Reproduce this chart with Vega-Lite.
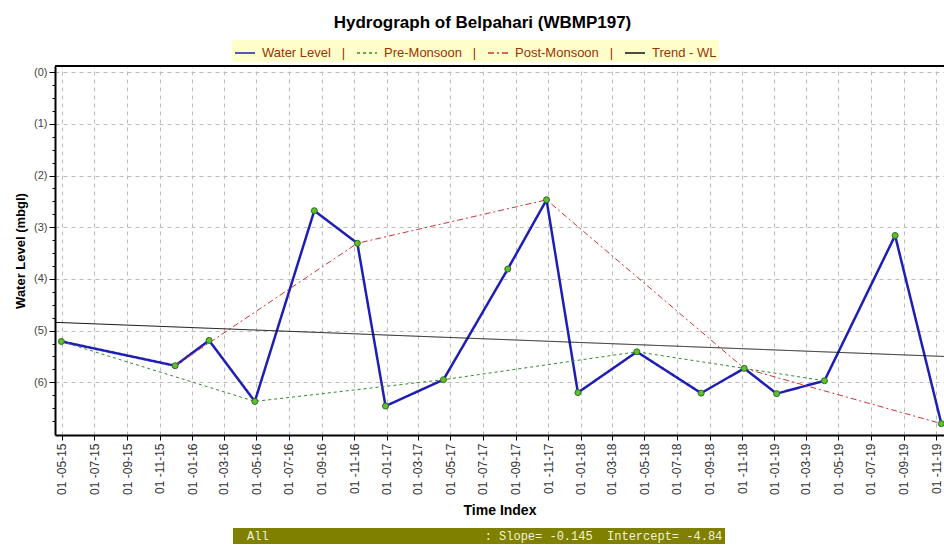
{
  "$schema": "https://vega.github.io/schema/vega-lite/v6.json",
  "width": 889,
  "height": 369,
  "autosize": {"type": "none"},
  "padding": {"left": 55, "top": 66, "right": 0, "bottom": 116},
  "background": "white",
  "title": {
    "text": "Hydrograph of Belpahari (WBMP197)",
    "font": "Liberation Sans, Arial, sans-serif",
    "fontSize": 17,
    "fontWeight": "bold",
    "color": "#000000",
    "anchor": "middle",
    "dx": -17,
    "offset": 8
  },
  "config": {
    "view": {"stroke": null},
    "font": "Liberation Sans, Arial, sans-serif"
  },
  "data": {
    "values": [
      {"date": "2015-04-30", "level": 5.21, "series": "Water Level"},
      {"date": "2015-11-30", "level": 5.68, "series": "Water Level"},
      {"date": "2016-02-02", "level": 5.19, "series": "Water Level"},
      {"date": "2016-04-28", "level": 6.37, "series": "Water Level"},
      {"date": "2016-08-18", "level": 2.68, "series": "Water Level"},
      {"date": "2016-11-07", "level": 3.31, "series": "Water Level"},
      {"date": "2016-12-30", "level": 6.46, "series": "Water Level"},
      {"date": "2017-04-18", "level": 5.95, "series": "Water Level"},
      {"date": "2017-08-17", "level": 3.81, "series": "Water Level"},
      {"date": "2017-10-29", "level": 2.47, "series": "Water Level"},
      {"date": "2017-12-27", "level": 6.20, "series": "Water Level"},
      {"date": "2018-04-17", "level": 5.41, "series": "Water Level"},
      {"date": "2018-08-16", "level": 6.21, "series": "Water Level"},
      {"date": "2018-11-05", "level": 5.73, "series": "Water Level"},
      {"date": "2019-01-05", "level": 6.22, "series": "Water Level"},
      {"date": "2019-04-05", "level": 5.97, "series": "Water Level"},
      {"date": "2019-08-16", "level": 3.16, "series": "Water Level"},
      {"date": "2019-11-11", "level": 6.80, "series": "Water Level"},
      {"date": "2015-04-30", "level": 5.21, "series": "Pre-Monsoon"},
      {"date": "2016-04-28", "level": 6.37, "series": "Pre-Monsoon"},
      {"date": "2017-04-18", "level": 5.95, "series": "Pre-Monsoon"},
      {"date": "2018-04-17", "level": 5.41, "series": "Pre-Monsoon"},
      {"date": "2019-04-05", "level": 5.97, "series": "Pre-Monsoon"},
      {"date": "2015-11-30", "level": 5.68, "series": "Post-Monsoon"},
      {"date": "2016-11-07", "level": 3.31, "series": "Post-Monsoon"},
      {"date": "2017-10-29", "level": 2.47, "series": "Post-Monsoon"},
      {"date": "2018-11-05", "level": 5.73, "series": "Post-Monsoon"},
      {"date": "2019-11-11", "level": 6.80, "series": "Post-Monsoon"},
      {"date": "2015-04-18", "level": 4.84, "series": "Trend - WL"},
      {"date": "2019-11-16", "level": 5.50, "series": "Trend - WL"}
    ]
  },
  "layer": [
    {
      "mark": {"type": "line", "clip": true},
      "encoding": {
        "x": {
          "field": "date",
          "type": "temporal",
          "title": "Time Index",
          "scale": {
            "type": "utc",
            "domain": [1429315200000, 1573862400000],
            "nice": false
          },
          "axis": {
            "values": [1430438400000, 1435708800000, 1441065600000, 1446336000000, 1451606400000, 1456790400000, 1462060800000, 1467331200000, 1472688000000, 1477958400000, 1483228800000, 1488326400000, 1493596800000, 1498867200000, 1504224000000, 1509494400000, 1514764800000, 1519862400000, 1525132800000, 1530403200000, 1535760000000, 1541030400000, 1546300800000, 1551398400000, 1556668800000, 1561939200000, 1567296000000, 1572566400000],
            "tickCount": 40,
            "labelExpr": "utcFormat(datum.value, '%d -%m-%y')",
            "labelAngle": -90,
            "labelFontSize": 12,
            "labelColor": "#333333",
            "labelPadding": 3,
            "labelOverlap": false,
            "labelFlush": false,
            "tickSize": 5,
            "tickColor": "#000000",
            "domainColor": "#000000",
            "domainWidth": 2,
            "grid": true,
            "gridColor": "#BBBBBB",
            "gridDash": [4, 4],
            "gridWidth": 1,
            "titleFontSize": 14,
            "titleFontWeight": "bold",
            "titleColor": "#000000",
            "titlePadding": 9
          }
        },
        "y": {
          "field": "level",
          "type": "quantitative",
          "title": "Water Level (mbgl)",
          "scale": {"domain": [-0.12, 7.02], "reverse": true, "nice": false, "zero": false},
          "axis": {
            "values": [0, 0.25, 0.5, 0.75, 1, 1.25, 1.5, 1.75, 2, 2.25, 2.5, 2.75, 3, 3.25, 3.5, 3.75, 4, 4.25, 4.5, 4.75, 5, 5.25, 5.5, 5.75, 6, 6.25, 6.5, 6.75],
            "tickCount": 40,
            "labelExpr": "datum.value % 1 === 0 ? '(' + datum.value + ')' : ''",
            "labelFontSize": 11,
            "labelColor": "#444444",
            "labelPadding": 2,
            "tickSize": {"condition": {"test": "datum.value % 1 === 0", "value": 6}, "value": 3},
            "tickColor": "#000000",
            "domainColor": "#000000",
            "domainWidth": 2,
            "grid": true,
            "gridColor": "#BBBBBB",
            "gridDash": [4, 4],
            "gridOpacity": {"condition": {"test": "datum.value % 1 === 0", "value": 1}, "value": 0},
            "titleFontSize": 13,
            "titleFontWeight": "bold",
            "titleColor": "#000000",
            "titlePadding": 6
          }
        },
        "color": {
          "field": "series",
          "type": "nominal",
          "scale": {
            "domain": ["Water Level", "Pre-Monsoon", "Post-Monsoon", "Trend - WL"],
            "range": ["#1E1EB4", "#2E8B2E", "#CC3333", "#111111"]
          },
          "legend": {
            "title": null,
            "orient": "none",
            "legendX": 177,
            "legendY": -26,
            "direction": "horizontal",
            "fillColor": "#FFFFCC",
            "padding": 2,
            "columnPadding": 8,
            "labelFont": "Liberation Sans, Arial, sans-serif",
            "labelFontSize": 13,
            "labelColor": "#993300",
            "labelOffset": 6,
            "labelExpr": "datum.label === 'Trend - WL' ? datum.label : datum.label + '\u00a0\u00a0\u00a0|'",
            "symbolType": "stroke",
            "symbolSize": 400,
            "symbolStrokeWidth": 1.5
          }
        },
        "strokeDash": {
          "field": "series",
          "type": "nominal",
          "scale": {
            "domain": ["Water Level", "Pre-Monsoon", "Post-Monsoon", "Trend - WL"],
            "range": [[1, 0], [3, 3], [6, 3, 2, 3], [1, 0]]
          }
        },
        "strokeWidth": {
          "condition": {"test": "datum.series === 'Water Level'", "value": 2.5},
          "value": 1
        }
      }
    },
    {
      "transform": [{"filter": "datum.series === 'Water Level'"}],
      "mark": {"type": "point", "filled": true, "size": 36, "fill": "#5FBF2F", "stroke": "#2E6E1E", "strokeWidth": 1, "opacity": 1},
      "encoding": {
        "x": {"field": "date", "type": "temporal"},
        "y": {"field": "level", "type": "quantitative"}
      }
    },
    {
      "mark": {"type": "rule", "color": "#000000", "strokeWidth": 2},
      "encoding": {"y": {"datum": -0.12, "type": "quantitative"}}
    },
    {
      "data": {"values": [{"stats": "All\u00a0\u00a0\u00a0\u00a0\u00a0\u00a0\u00a0\u00a0\u00a0\u00a0\u00a0\u00a0\u00a0\u00a0\u00a0\u00a0\u00a0\u00a0\u00a0\u00a0\u00a0\u00a0\u00a0\u00a0\u00a0\u00a0\u00a0\u00a0\u00a0\u00a0:\u00a0Slope=\u00a0-0.145\u00a0\u00a0Intercept=\u00a0-4.84"}]},
      "mark": {"type": "point", "opacity": 0},
      "encoding": {
        "shape": {
          "field": "stats",
          "type": "nominal",
          "legend": {
            "title": null,
            "orient": "none",
            "legendX": 178,
            "legendY": 462,
            "fillColor": "#808000",
            "padding": 2,
            "symbolSize": 0,
            "symbolOpacity": 0,
            "symbolStrokeWidth": 0,
            "labelOffset": 0,
            "labelFont": "Liberation Mono, Courier New, monospace",
            "labelFontSize": 12,
            "labelColor": "#F2F2D8",
            "labelLimit": 2000
          }
        }
      }
    }
  ]
}
